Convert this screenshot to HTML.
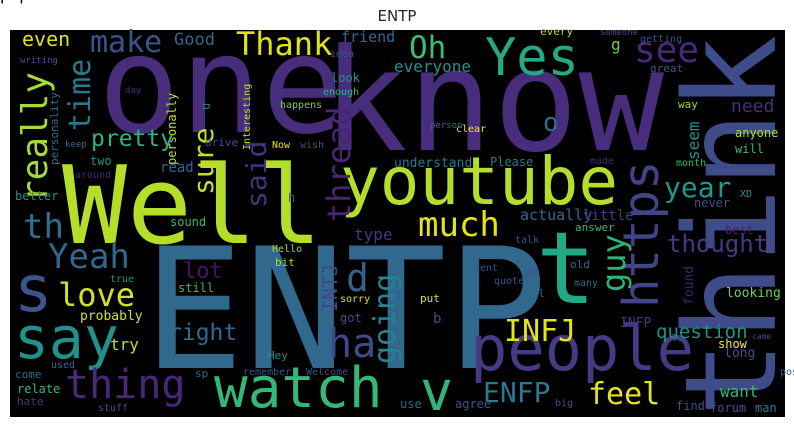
<!DOCTYPE html>
<html><head><meta charset="utf-8">
<style>
html,body{margin:0;padding:0;background:#fff;width:794px;height:427px;overflow:hidden}
svg{display:block}
text{font-family:"DejaVu Sans Mono","Liberation Mono",monospace}
</style></head>
<body>
<svg id="wc" width="794" height="427" viewBox="0 0 794 427">
<text x="397" y="21" text-anchor="middle" style="font-family:'DejaVu Sans','Liberation Sans',sans-serif;font-size:15px" fill="#262626">ENTP</text>
<rect x="10" y="30" width="775" height="387" fill="#000"/>
<g id="words"></g>
</svg>
<script>
// word, x, y (baseline start), font size, color, rotated
const words = ["ENTP","Well","one","know","think","youtube","t","people","https","say","watch","thing","love","s","Yeah","th","really","time","even","make","Good","Thank","friend","idea","look","enough","happens","Interesting","personally","sure","u","pretty","said","thread","Oh","Yes","see","everyone","g","every","great","need","o","seem","anyone","will","month","understand","Please","year","XD","never","actually","little","much","answer","talk","thought","best","guy","going","INFJ","question","INFP","old","many","lol","go","looking","found","ENFP","feel","v","want","forum","man","find","long","show","agree","use","big","put","b","right","lot","d","ha","INTJ","type","probably","try","Hey","remember","Welcome","relate","hate","come","stuff","used","true","still","Hello","bit","sorry","got","sp","sound","two","read","better","keep","around","drive","Now","wish","day","writing","h","personality","way","someone","getting","made","clear","person","Sent","quote","post","Ti","came","popular"];
const xs = [143,62,98,322,775,340,536,470,658,14,214,65,58,14,48,23,47,90,22,90,174,236,341,330,331,323,280,250,176,213,210,91,266,350,409,485,634,394,611,540,650,731,543,699,735,735,676,394,490,664,740,694,520,583,418,575,515,667,725,625,395,504,656,620,570,574,525,525,726,693,483,588,420,720,710,755,676,724,718,455,400,555,420,433,168,183,346,328,337,354,80,110,268,243,306,17,17,15,98,51,110,178,272,275,340,340,195,170,90,160,15,65,75,205,272,300,125,20,288,58,678,600,640,590,456,430,474,494,780,672,752];
const ys = [368,243,132,150,417,204,303,370,308,358,407,398,306,311,268,238,202,131,46,52,45,55,42,57,82,95,108,150,165,195,110,146,208,222,58,75,62,72,50,35,72,112,131,160,137,153,166,167,166,197,197,207,220,220,236,231,243,252,234,292,364,341,338,327,268,286,297,275,297,305,402,404,410,397,412,412,410,357,348,408,408,406,302,323,340,278,291,357,312,240,320,350,359,375,375,393,405,378,411,368,282,292,252,266,302,322,377,226,165,172,200,147,178,146,148,148,93,63,202,165,108,35,42,164,132,128,271,284,375,341,339];
const sizes = [168,108,136,142,127,66,100,62,49,58,56,40,32,64,34,34,36,30,20,30,17,32,15,10,12,10,10,10,12,28,12,23,28,32,31,52,36,16,16,11,11,18,26,16,12,12,10,13,12,28,10,12,15,14,34,11,10,24,12,32,30,30,19,13,11,10,11,11,13,13,28,30,55,16,12,12,12,13,12,12,12,10,11,14,23,22,38,40,20,16,13,16,11,10,10,12,11,11,10,10,10,12,10,11,10,12,11,12,12,14,12,9,10,11,10,10,9,9,12,11,11,9,10,10,10,9,10,10,10,10,8];
const colors = ["#31688e","#b5de2b","#472d7b","#472d7b","#3e4c8a","#b5de2b","#22a884","#443b84","#414487","#21918c","#35b779","#482878","#d2e21b","#3a548c","#31688e","#2c728e","#a5db36","#2a788e","#dde318","#3b528b","#31688e","#dde318","#31688e","#3b528b","#21918c","#35b779","#6ece58","#bddf26","#bddf26","#c2df23","#2a788e","#2fb47c","#46337e","#482576","#3dbc74","#23a983","#482878","#21918c","#6ece58","#addc30","#3b528b","#472d7b","#31688e","#21918c","#addc30","#35b779","#35b779","#2a788e","#2a788e","#1f9a8a","#21918c","#3b528b","#31688e","#443983","#e5e419","#35b779","#3b528b","#443983","#481f70","#2db27d","#26828e","#e5e419","#21918c","#443983","#31688e","#31688e","#31688e","#3b528b","#6ece58","#481f70","#2a788e","#e5e419","#2fb47c","#35b779","#3b528b","#2a788e","#3b528b","#3b528b","#fde725","#3b528b","#31688e","#3b528b","#dde318","#3b528b","#31688e","#471365","#33638d","#3e4a89","#3e4989","#443983","#d2e21b","#bddf26","#21918c","#3b528b","#3b528b","#35b779","#443983","#31688e","#3b528b","#31688e","#21918c","#35b779","#a5db36","#a5db36","#dde318","#3b528b","#31688e","#35b779","#21918c","#31688e","#21918c","#31688e","#482878","#3b528b","#e5e419","#3b528b","#482878","#3b528b","#3b528b","#31688e","#a5db36","#3b528b","#3b528b","#482878","#fde725","#31688e","#3b528b","#3b528b","#3b528b","#3b528b","#3b528b"];
const rotated = ["really","time","personally","Interesting","sure","u","said","thread","https","think","seem","guy","going","INTJ","found","personality"];
const g = document.getElementById('words');
const NS = 'http://www.w3.org/2000/svg';
for (let i = 0; i < words.length; i++) {
  const t = document.createElementNS(NS, 'text');
  t.textContent = words[i];
  t.setAttribute('font-size', sizes[i]);
  t.setAttribute('fill', colors[i]);
  if (rotated.includes(words[i])) {
    t.setAttribute('transform', 'translate(' + xs[i] + ',' + ys[i] + ') rotate(-90)');
  } else {
    t.setAttribute('x', xs[i]);
    t.setAttribute('y', ys[i]);
  }
  
  
  g.appendChild(t);
}
</script>
</body></html>
